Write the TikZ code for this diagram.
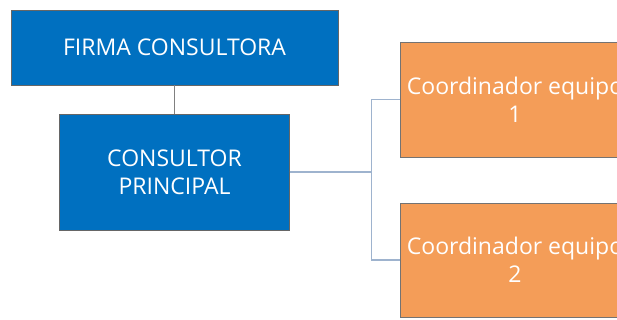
\documentclass[tikz,border=0pt]{standalone}
\usepackage{fontspec}
\setmainfont{Open Sans}
\usepackage{tikz}
\usetikzlibrary{shapes,arrows}
\definecolor{azul}{HTML}{0070C0}
\definecolor{naranja}{HTML}{F49D58}
\definecolor{gris}{HTML}{9EB3CE}
\tikzstyle{jefe} = [rectangle, fill=azul, draw=black!60, text=white, align=center, font=\fontsize{23}{28}\selectfont]
\tikzstyle{coord} = [rectangle, fill=naranja, draw=black!55, text=white, align=center, minimum width=230pt, font=\fontsize{23}{28}\selectfont]
\tikzstyle{linea} = [draw=black!50, line width=1.5pt]
\tikzstyle{rama} = [draw=gris, line width=1.3pt]

\begin{document}
\begin{tikzpicture}[x=1pt, y=-1pt]
        \useasboundingbox (0,0) rectangle (617,320);
        \clip (0,0) rectangle (617,320);
        \node (firma) [jefe, minimum width=327pt, minimum height=75pt] at (174.5,47.5) {FIRMA CONSULTORA};
        \node (consultor) [jefe, minimum width=230pt, minimum height=116pt] at (174.5,172) {CONSULTOR\\PRINCIPAL};
        \node (coord1) [coord, minimum height=115pt] at (515,99.5) {Coordinador equipo\\1};
        \node (coord2) [coord, minimum height=114pt] at (515,260) {Coordinador equipo\\2};
        \draw [linea] (firma) -- (consultor);
        \draw [rama] (consultor.east) -- ++(82,0) coordinate (nudo) |- (coord1.west);
        \draw [rama] (nudo) |- (coord2.west);
        \end{tikzpicture}
\end{document}
